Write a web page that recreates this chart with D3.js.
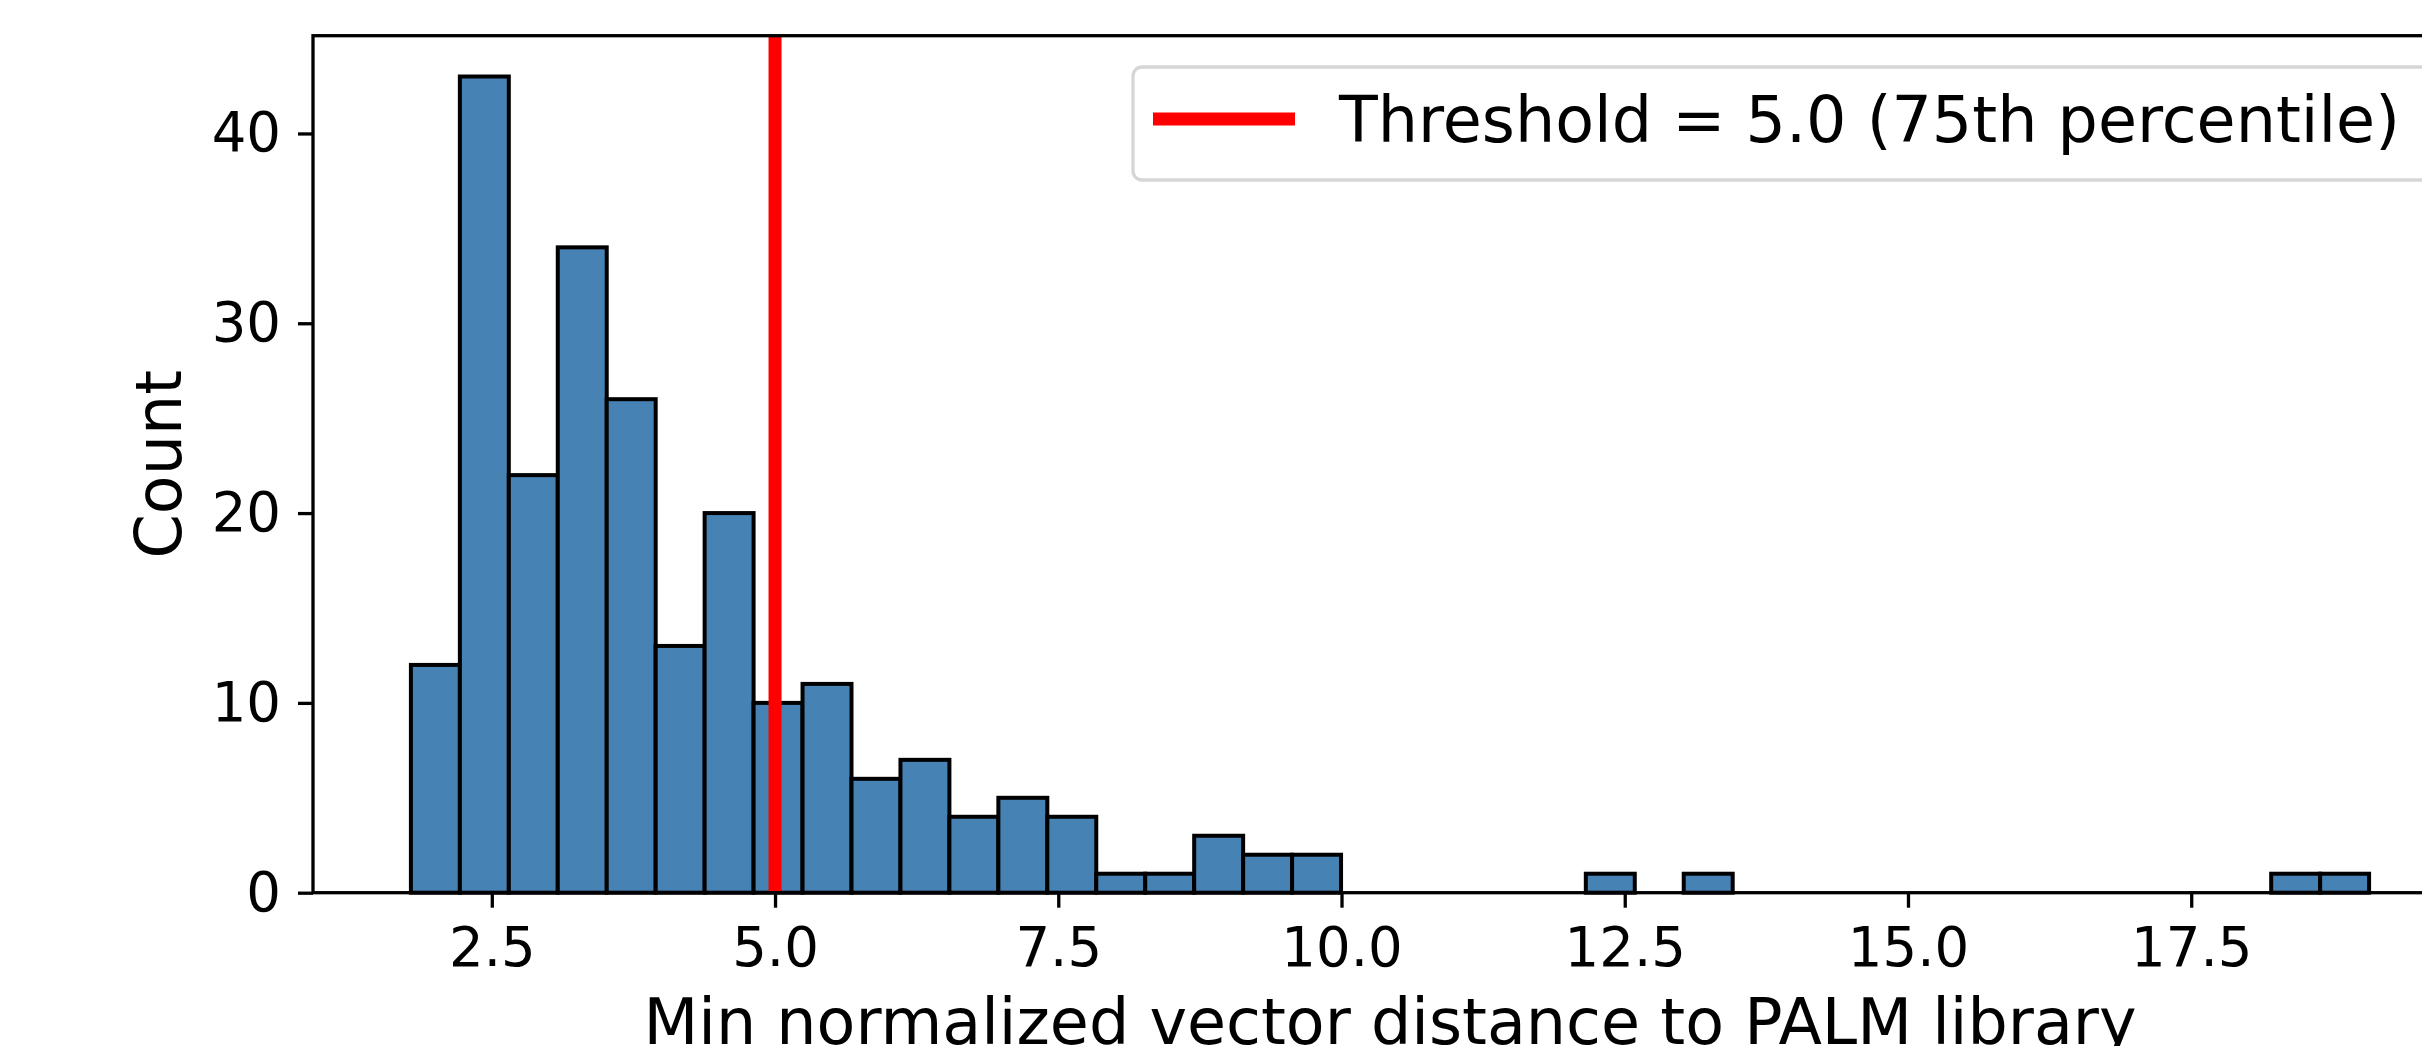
<!DOCTYPE html>
<html lang="en">
<head>
<meta charset="UTF-8">
<title>min distance histogram</title>
<script src="https://cdn.jsdelivr.net/npm/d3@7"></script>
<style>
    body{
        margin: 0;
        background: #ffffff;
    }
    svg text{
        font-family: "DejaVu Sans", sans-serif;
        fill: #000000;
    }
</style>
</head>
<body>
<svg id="main" width="2422" height="1046"></svg>

<script>
    // histogram data (40 equal-width bins)
    let binMin = 1.786
    let binMax = 19.07
    let counts = [12, 43, 22, 34, 26, 13, 20, 10, 11, 6,
                  7, 4, 5, 4, 1, 1, 3, 2, 2, 0,
                  0, 0, 0, 0, 1, 0, 1, 0, 0, 0,
                  0, 0, 0, 0, 0, 0, 0, 0, 1, 1]
    let threshold = 5.0
    let legendLabel = "Threshold = 5.0 (75th percentile)"
    let xTicks = [2.5, 5.0, 7.5, 10.0, 12.5, 15.0, 17.5]
    let yTicks = [0, 10, 20, 30, 40]
    let xLabel = "Min normalized vector distance to PALM library"
    let yLabel = "Count"

    // axes box (right side falls outside the picture, like the original crop)
    let axLeft = 313, axTop = 35.7, axRight = 2467, axBottom = 892.7

    let binWidth = (binMax - binMin) / counts.length
    let bins = counts.map((c, i) => ({x0: binMin + i * binWidth, x1: binMin + (i + 1) * binWidth, count: c}))

    // matplotlib style 5% margins
    let xPad = (binMax - binMin) * 0.05
    let x_scale = d3.scaleLinear()
        .domain([binMin - xPad, binMax + xPad])
        .range([axLeft, axRight])

    let y_scale = d3.scaleLinear()
        .domain([0, d3.max(counts) * 1.05])
        .range([axBottom, axTop])

    let svg = d3.select("#main")

    // bars
    svg.append("g")
        .selectAll("rect")
        .data(bins.filter(d => d.count > 0))
        .join("rect")
        .attr("x", d => x_scale(d.x0))
        .attr("y", d => y_scale(d.count))
        .attr("width", d => x_scale(d.x1) - x_scale(d.x0))
        .attr("height", d => y_scale(0) - y_scale(d.count))
        .attr("fill", "#4682b4")
        .attr("stroke", "#000000")
        .attr("stroke-width", 4)

    // threshold line
    svg.append("line")
        .attr("x1", x_scale(threshold))
        .attr("x2", x_scale(threshold))
        .attr("y1", axTop)
        .attr("y2", axBottom)
        .attr("stroke", "#ff0000")
        .attr("stroke-width", 13)

    // axes
    let x_axis = d3.axisBottom(x_scale)
        .tickValues(xTicks)
        .tickFormat(d3.format(".1f"))
        .tickSize(15)
        .tickSizeOuter(0)
        .tickPadding(20)

    let y_axis = d3.axisLeft(y_scale)
        .tickValues(yTicks)
        .tickFormat(d3.format("d"))
        .tickSize(15)
        .tickSizeOuter(0)
        .tickPadding(17)

    let gx = svg.append("g")
        .attr("transform", `translate(0,${axBottom})`)
        .call(x_axis)
    let gy = svg.append("g")
        .attr("transform", `translate(${axLeft},0)`)
        .call(y_axis)

    for (let g of [gx, gy]) {
        g.select(".domain").remove()
        g.selectAll(".tick line").attr("stroke", "#000000").attr("stroke-width", 3.3)
        g.selectAll(".tick text")
            .style("font-family", '"DejaVu Sans", sans-serif')
            .style("font-size", "54.5px")
            .attr("fill", "#000000")
    }

    // spines
    svg.append("rect")
        .attr("x", axLeft)
        .attr("y", axTop)
        .attr("width", axRight - axLeft)
        .attr("height", axBottom - axTop)
        .attr("fill", "none")
        .attr("stroke", "#000000")
        .attr("stroke-width", 3.3)

    // axis labels
    svg.append("text")
        .attr("x", (axLeft + axRight) / 2)
        .attr("y", 1044)
        .style("text-anchor", "middle")
        .style("font-size", "63.5px")
        .text(xLabel)

    svg.append("text")
        .attr("transform", `translate(181,${(axTop + axBottom) / 2}) rotate(-90)`)
        .style("text-anchor", "middle")
        .style("font-size", "63.5px")
        .text(yLabel)

    // legend
    let legend = svg.append("g")
    legend.append("rect")
        .attr("x", 1133)
        .attr("y", 67)
        .attr("width", 1302)
        .attr("height", 113)
        .attr("rx", 9)
        .attr("fill", "#ffffff")
        .attr("fill-opacity", 0.8)
        .attr("stroke", "#d6d6d6")
        .attr("stroke-width", 3.3)
    legend.append("line")
        .attr("x1", 1153)
        .attr("x2", 1295)
        .attr("y1", 119)
        .attr("y2", 119)
        .attr("stroke", "#ff0000")
        .attr("stroke-width", 13)
    legend.append("text")
        .attr("x", 1339)
        .attr("y", 141.7)
        .style("font-size", "63.5px")
        .text(legendLabel)
</script>
</body>
</html>
